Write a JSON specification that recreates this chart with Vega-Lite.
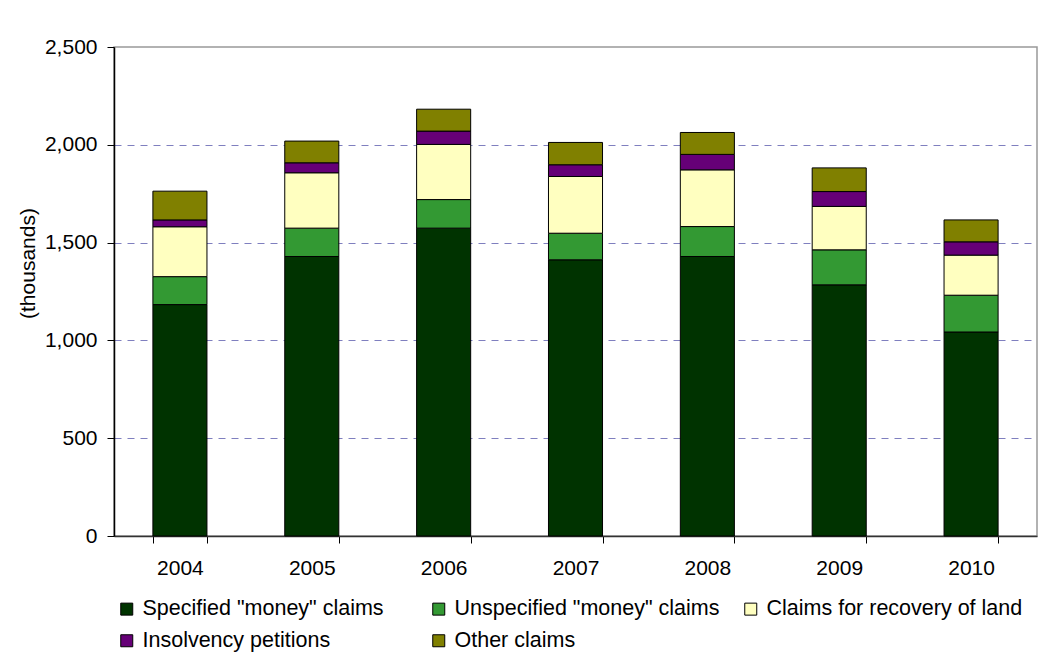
{
  "$schema": "https://vega.github.io/schema/vega-lite/v6.json",
  "autosize": {"type": "none"},
  "padding": {"left": 114, "top": 47, "right": 26, "bottom": 116},
  "width": 923,
  "height": 489,
  "background": "white",
  "config": {
    "font": "Liberation Sans",
    "view": {"stroke": "#999999", "strokeWidth": 1.5},
    "axis": {"labelColor": "black", "titleColor": "black", "labelFontSize": 21, "titleFontSize": 21, "titleFontWeight": "normal"}
  },
  "data": {
    "values": [
      {"year": "2004", "type": "Specified \"money\" claims", "k": 1, "value": 1183},
      {"year": "2004", "type": "Unspecified \"money\" claims", "k": 2, "value": 143},
      {"year": "2004", "type": "Claims for recovery of land", "k": 3, "value": 255},
      {"year": "2004", "type": "Insolvency petitions", "k": 4, "value": 35},
      {"year": "2004", "type": "Other claims", "k": 5, "value": 147},
      {"year": "2005", "type": "Specified \"money\" claims", "k": 1, "value": 1429},
      {"year": "2005", "type": "Unspecified \"money\" claims", "k": 2, "value": 145},
      {"year": "2005", "type": "Claims for recovery of land", "k": 3, "value": 283},
      {"year": "2005", "type": "Insolvency petitions", "k": 4, "value": 51},
      {"year": "2005", "type": "Other claims", "k": 5, "value": 111},
      {"year": "2006", "type": "Specified \"money\" claims", "k": 1, "value": 1574},
      {"year": "2006", "type": "Unspecified \"money\" claims", "k": 2, "value": 146},
      {"year": "2006", "type": "Claims for recovery of land", "k": 3, "value": 282},
      {"year": "2006", "type": "Insolvency petitions", "k": 4, "value": 68},
      {"year": "2006", "type": "Other claims", "k": 5, "value": 112},
      {"year": "2007", "type": "Specified \"money\" claims", "k": 1, "value": 1412},
      {"year": "2007", "type": "Unspecified \"money\" claims", "k": 2, "value": 136},
      {"year": "2007", "type": "Claims for recovery of land", "k": 3, "value": 290},
      {"year": "2007", "type": "Insolvency petitions", "k": 4, "value": 60},
      {"year": "2007", "type": "Other claims", "k": 5, "value": 114},
      {"year": "2008", "type": "Specified \"money\" claims", "k": 1, "value": 1429},
      {"year": "2008", "type": "Unspecified \"money\" claims", "k": 2, "value": 153},
      {"year": "2008", "type": "Claims for recovery of land", "k": 3, "value": 290},
      {"year": "2008", "type": "Insolvency petitions", "k": 4, "value": 79},
      {"year": "2008", "type": "Other claims", "k": 5, "value": 112},
      {"year": "2009", "type": "Specified \"money\" claims", "k": 1, "value": 1284},
      {"year": "2009", "type": "Unspecified \"money\" claims", "k": 2, "value": 179},
      {"year": "2009", "type": "Claims for recovery of land", "k": 3, "value": 222},
      {"year": "2009", "type": "Insolvency petitions", "k": 4, "value": 76},
      {"year": "2009", "type": "Other claims", "k": 5, "value": 121},
      {"year": "2010", "type": "Specified \"money\" claims", "k": 1, "value": 1043},
      {"year": "2010", "type": "Unspecified \"money\" claims", "k": 2, "value": 188},
      {"year": "2010", "type": "Claims for recovery of land", "k": 3, "value": 205},
      {"year": "2010", "type": "Insolvency petitions", "k": 4, "value": 68},
      {"year": "2010", "type": "Other claims", "k": 5, "value": 112}
    ]
  },
  "mark": {"type": "bar", "stroke": "black", "strokeWidth": 1},
  "encoding": {
    "x": {
      "field": "year", "type": "nominal", "title": null,
      "scale": {"paddingInner": 0.59, "paddingOuter": 0.295},
      "axis": {
        "labelAngle": 0, "tickBand": "extent", "tickSize": 7, "tickColor": "black",
        "domainColor": "#333333", "domainWidth": 1.5, "labelPadding": 14
      }
    },
    "y": {
      "field": "value", "type": "quantitative", "stack": "zero",
      "scale": {"domain": [0, 2500], "nice": false},
      "axis": {
        "title": "(thousands)", "values": [0, 500, 1000, 1500, 2000, 2500],
        "format": ",d", "tickSize": 7, "tickColor": "black", "domainColor": "black", "domainWidth": 1.5,
        "labelPadding": 10, "titleX": -76, "titleY": 216, "titleAlign": "center", "titleBaseline": "bottom",
        "grid": true, "gridColor": "#7f7fbf", "gridDash": [7, 6], "gridWidth": 1,
        "gridOpacity": {"condition": {"test": "datum.value == 0 || datum.value == 2500", "value": 0}, "value": 1}
      }
    },
    "color": {
      "field": "type", "type": "nominal",
      "scale": {
        "domain": ["Specified \"money\" claims", "Unspecified \"money\" claims", "Claims for recovery of land", "Insolvency petitions", "Other claims"],
        "range": ["#003300", "#339933", "#ffffc0", "#660077", "#808000"]
      },
      "legend": {
        "title": null, "orient": "none", "direction": "horizontal", "legendX": 2, "legendY": 551, "columns": 3, "gridAlign": "all",
        "columnPadding": 20, "rowPadding": 9, "symbolType": "square", "symbolSize": 144,
        "symbolStrokeColor": "black", "symbolStrokeWidth": 1, "symbolOpacity": 1,
        "labelFontSize": 21.5, "labelColor": "black", "labelOffset": 5, "labelLimit": 400
      }
    },
    "order": {"field": "k", "type": "quantitative", "sort": "ascending"}
  }
}
